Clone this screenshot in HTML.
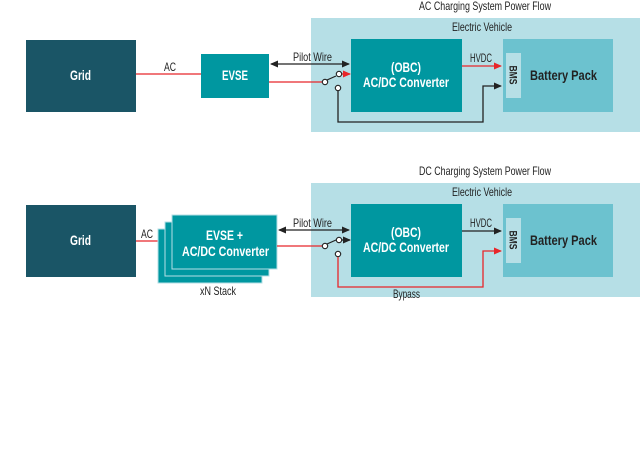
<!DOCTYPE html>
<html><head><style>
body{margin:0;background:#fff;width:640px;height:464px;overflow:hidden}
svg text{font-family:"Liberation Sans",sans-serif}
</style></head><body>
<svg width="640" height="464" viewBox="0 0 640 464" xmlns="http://www.w3.org/2000/svg">
<defs>
<marker id="ak" markerWidth="8" markerHeight="8" refX="7" refY="4" orient="auto-start-reverse" markerUnits="userSpaceOnUse"><path d="M0,0.5 L8,4 L0,7.5 Z" fill="#222"/></marker>
<marker id="ar" markerWidth="8" markerHeight="8" refX="7" refY="4" orient="auto" markerUnits="userSpaceOnUse"><path d="M0,0.5 L8,4 L0,7.5 Z" fill="#e8262a"/></marker>
</defs>
<g id="top">
<text x="419" y="10" font-size="12" textLength="132" lengthAdjust="spacingAndGlyphs" fill="#222">AC Charging System Power Flow</text>
<rect x="311" y="18" width="329" height="114" fill="#b6dfe6"/>
<text x="452" y="31" font-size="12" textLength="60" lengthAdjust="spacingAndGlyphs" fill="#222">Electric Vehicle</text>
<rect x="26" y="40" width="110" height="72" fill="#1a5566"/>
<text x="70" y="80" font-size="14" font-weight="bold" textLength="21" lengthAdjust="spacingAndGlyphs" fill="#fff">Grid</text>
<line x1="136" y1="74" x2="201" y2="74" stroke="#e8262a" stroke-width="1.3"/>
<text x="164" y="71" font-size="12" textLength="12" lengthAdjust="spacingAndGlyphs" fill="#222">AC</text>
<rect x="201" y="54" width="68" height="44" fill="#0097a0"/>
<text x="222" y="80" font-size="14" font-weight="bold" textLength="26" lengthAdjust="spacingAndGlyphs" fill="#fff">EVSE</text>
<rect x="351" y="39" width="111" height="73" fill="#0097a0"/>
<text x="391" y="72" font-size="14" font-weight="bold" textLength="30" lengthAdjust="spacingAndGlyphs" fill="#fff">(OBC)</text>
<text x="363" y="87" font-size="14" font-weight="bold" textLength="86" lengthAdjust="spacingAndGlyphs" fill="#fff">AC/DC Converter</text>
<rect x="503" y="39" width="110" height="73" fill="#6cc2cf"/>
<rect x="506" y="53" width="15" height="45" fill="#b6dfe6"/>
<text x="513.5" y="75" font-size="11" font-weight="bold" text-anchor="middle" fill="#222" transform="rotate(90 513.5 75)" dy="4" textLength="19" lengthAdjust="spacingAndGlyphs">BMS</text>
<text x="530" y="80" font-size="14" font-weight="bold" textLength="67" lengthAdjust="spacingAndGlyphs" fill="#222">Battery Pack</text>
<line x1="271" y1="64" x2="349" y2="64" stroke="#222" stroke-width="1.3" marker-start="url(#ak)" marker-end="url(#ak)"/>
<text x="293" y="61" font-size="12" textLength="39" lengthAdjust="spacingAndGlyphs" fill="#222">Pilot Wire</text>
<line x1="462" y1="66" x2="501" y2="66" stroke="#e8262a" stroke-width="1.3" marker-end="url(#ar)"/>
<text x="470" y="62" font-size="12" textLength="22" lengthAdjust="spacingAndGlyphs" fill="#222">HVDC</text>
<line x1="269" y1="82" x2="322" y2="82" stroke="#e8262a" stroke-width="1.3"/>
<line x1="327" y1="80" x2="336" y2="76" stroke="#222" stroke-width="1.2"/>
<circle cx="325" cy="82" r="2.7" fill="#fff" stroke="#222" stroke-width="1.1"/>
<circle cx="339" cy="74" r="2.7" fill="#fff" stroke="#222" stroke-width="1.1"/>
<circle cx="338" cy="88" r="2.7" fill="#fff" stroke="#222" stroke-width="1.1"/>
<line x1="342" y1="74" x2="350" y2="74" stroke="#e8262a" stroke-width="1.3" marker-end="url(#ar)"/>
<polyline points="338,91 338,122 483,122 483,86 501,86" fill="none" stroke="#222" stroke-width="1.3" marker-end="url(#ak)"/>
</g>
<g id="bot">
<text x="419" y="175" font-size="12" textLength="132" lengthAdjust="spacingAndGlyphs" fill="#222">DC Charging System Power Flow</text>
<rect x="311" y="183" width="329" height="114" fill="#b6dfe6"/>
<text x="452" y="196" font-size="12" textLength="60" lengthAdjust="spacingAndGlyphs" fill="#222">Electric Vehicle</text>
<rect x="26" y="205" width="110" height="72" fill="#1a5566"/>
<text x="70" y="245" font-size="14" font-weight="bold" textLength="21" lengthAdjust="spacingAndGlyphs" fill="#fff">Grid</text>
<line x1="136" y1="241" x2="158" y2="241" stroke="#e8262a" stroke-width="1.3"/>
<text x="141" y="238" font-size="12" textLength="12" lengthAdjust="spacingAndGlyphs" fill="#222">AC</text>
<rect x="158" y="229" width="104" height="54" fill="#0097a0" stroke="#b6dfe6" stroke-width="1"/>
<rect x="165" y="222" width="104" height="54" fill="#0097a0" stroke="#b6dfe6" stroke-width="1"/>
<rect x="172" y="215" width="105" height="54" fill="#0097a0" stroke="#b6dfe6" stroke-width="1"/>
<text x="206" y="240" font-size="14" font-weight="bold" textLength="37" lengthAdjust="spacingAndGlyphs" fill="#fff">EVSE +</text>
<text x="182" y="256" font-size="14" font-weight="bold" textLength="87" lengthAdjust="spacingAndGlyphs" fill="#fff">AC/DC Converter</text>
<text x="200" y="295" font-size="12" textLength="36" lengthAdjust="spacingAndGlyphs" fill="#222">xN Stack</text>
<rect x="351" y="204" width="111" height="73" fill="#0097a0"/>
<text x="391" y="237" font-size="14" font-weight="bold" textLength="30" lengthAdjust="spacingAndGlyphs" fill="#fff">(OBC)</text>
<text x="363" y="252" font-size="14" font-weight="bold" textLength="86" lengthAdjust="spacingAndGlyphs" fill="#fff">AC/DC Converter</text>
<rect x="503" y="204" width="110" height="73" fill="#6cc2cf"/>
<rect x="506" y="218" width="15" height="45" fill="#b6dfe6"/>
<text x="513.5" y="240" font-size="11" font-weight="bold" text-anchor="middle" fill="#222" transform="rotate(90 513.5 240)" dy="4" textLength="19" lengthAdjust="spacingAndGlyphs">BMS</text>
<text x="530" y="245" font-size="14" font-weight="bold" textLength="67" lengthAdjust="spacingAndGlyphs" fill="#222">Battery Pack</text>
<line x1="279" y1="230" x2="349" y2="230" stroke="#222" stroke-width="1.3" marker-start="url(#ak)" marker-end="url(#ak)"/>
<text x="293" y="227" font-size="12" textLength="39" lengthAdjust="spacingAndGlyphs" fill="#222">Pilot Wire</text>
<line x1="462" y1="231" x2="501" y2="231" stroke="#222" stroke-width="1.3" marker-end="url(#ak)"/>
<text x="470" y="227" font-size="12" textLength="22" lengthAdjust="spacingAndGlyphs" fill="#222">HVDC</text>
<line x1="277" y1="246" x2="322" y2="246" stroke="#e8262a" stroke-width="1.3"/>
<line x1="327" y1="244" x2="336" y2="240" stroke="#222" stroke-width="1.2"/>
<circle cx="325" cy="246" r="2.7" fill="#fff" stroke="#222" stroke-width="1.1"/>
<circle cx="339" cy="240" r="2.7" fill="#fff" stroke="#222" stroke-width="1.1"/>
<circle cx="338" cy="254" r="2.7" fill="#fff" stroke="#222" stroke-width="1.1"/>
<line x1="342" y1="240" x2="350" y2="240" stroke="#222" stroke-width="1.3" marker-end="url(#ak)"/>
<polyline points="338,257 338,287 483,287 483,251 501,251" fill="none" stroke="#e8262a" stroke-width="1.3" marker-end="url(#ar)"/>
<text x="393" y="298" font-size="12" textLength="27" lengthAdjust="spacingAndGlyphs" fill="#222">Bypass</text>
</g>
</svg>
</body></html>
